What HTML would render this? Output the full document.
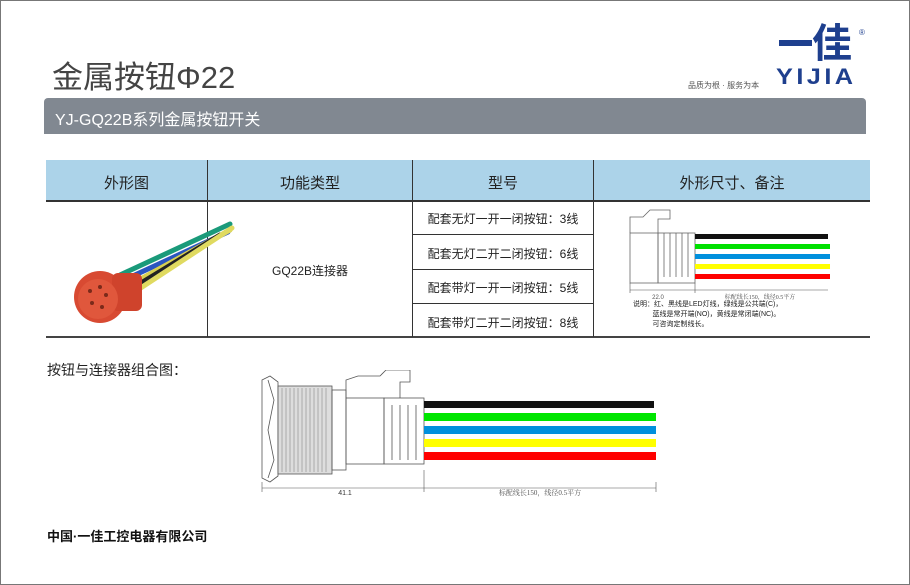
<!DOCTYPE html>
<html><head><meta charset="utf-8"><style>
*{margin:0;padding:0;box-sizing:border-box}
body{width:910px;height:585px;background:#fff;position:relative;overflow:hidden;font-family:"Liberation Sans","Noto Sans CJK SC",sans-serif;color:#333}
.frame{position:absolute;left:0;top:0;width:910px;height:585px;border:1px solid #777}
.a{position:absolute;white-space:nowrap}
</style></head><body>
<div class="frame"></div>
<div class="a" style="left:52px;top:52px;font-size:31px;color:#444">金属按钮Φ22</div>
<!-- logo -->
<div class="a" style="left:779px;top:40px;width:33px;height:6px;background:#1e3f8e"></div>
<div class="a" style="left:812px;top:24px;font-size:40px;font-weight:bold;color:#1e3f8e;line-height:40px">佳</div>
<div class="a" style="left:859px;top:28px;font-size:8px;color:#1e3f8e">®</div>
<div class="a" style="left:776px;top:66px;font-size:22px;font-weight:bold;color:#1e3f8e;letter-spacing:3px;line-height:22px;transform:scaleX(1.15);transform-origin:left">YIJIA</div>
<div class="a" style="left:688px;top:80px;font-size:8px;color:#555">品质为根 · 服务为本</div>
<!-- gray bar -->
<div class="a" style="left:44px;top:98px;width:822px;height:36px;background:#818891;border-radius:4px 4px 0 0"></div>
<div class="a" style="left:55px;top:106px;font-size:16px;color:#fff">YJ-GQ22B系列金属按钮开关</div>
<!-- table -->
<div class="a" style="left:46px;top:160px;width:824px;height:40px;background:#acd3e9"></div>
<div class="a" style="left:46px;top:200px;width:824px;height:2px;background:#333"></div>
<div class="a" style="left:46px;top:336px;width:824px;height:2px;background:#444"></div>
<div class="a" style="left:207px;top:160px;width:1px;height:177px;background:#333"></div>
<div class="a" style="left:412px;top:160px;width:1px;height:177px;background:#333"></div>
<div class="a" style="left:593px;top:160px;width:1px;height:177px;background:#333"></div>
<div class="a" style="left:412px;top:234px;width:181px;height:1px;background:#333"></div>
<div class="a" style="left:412px;top:269px;width:181px;height:1px;background:#333"></div>
<div class="a" style="left:412px;top:303px;width:181px;height:1px;background:#333"></div>
<div class="a" style="left:46px;top:172px;width:161px;text-align:center;font-size:15px;color:#222">外形图</div>
<div class="a" style="left:208px;top:172px;width:204px;text-align:center;font-size:15px;color:#222">功能类型</div>
<div class="a" style="left:413px;top:172px;width:180px;text-align:center;font-size:15px;color:#222">型号</div>
<div class="a" style="left:594px;top:172px;width:276px;text-align:center;font-size:15px;color:#222">外形尺寸、备注</div>
<div class="a" style="left:208px;top:262px;width:204px;text-align:center;font-size:12px;color:#222">GQ22B连接器</div>
<div class="a" style="left:413px;top:210px;width:180px;text-align:center;font-size:12px;color:#222">配套无灯一开一闭按钮：3线</div>
<div class="a" style="left:413px;top:245px;width:180px;text-align:center;font-size:12px;color:#222">配套无灯二开二闭按钮：6线</div>
<div class="a" style="left:413px;top:279px;width:180px;text-align:center;font-size:12px;color:#222">配套带灯一开一闭按钮：5线</div>
<div class="a" style="left:413px;top:314px;width:180px;text-align:center;font-size:12px;color:#222">配套带灯二开二闭按钮：8线</div>
<!-- connector photo -->
<svg class="a" style="left:60px;top:215px" width="175" height="115">
<g stroke-width="5" fill="none" stroke-linecap="round">
<path d="M60 60 L170 9" stroke="#1a9a7a"/>
<path d="M62 66 L168 17" stroke="#2a55c0"/>
<path d="M66 72 L170 15" stroke="#d8d050"/>
<path d="M68 76 L160 20" stroke="#222"/>
<path d="M70 80 L172 13" stroke="#e0da60"/>
</g>
<circle cx="40" cy="82" r="26" fill="#d84a32"/>
<rect x="52" y="58" width="30" height="38" rx="6" fill="#cf432c"/>
<circle cx="38" cy="84" r="20" fill="#e0573c"/>
<g fill="#7a2a1a"><circle cx="30" cy="76" r="2"/><circle cx="40" cy="72" r="2"/><circle cx="46" cy="80" r="2"/><circle cx="32" cy="88" r="2"/><circle cx="42" cy="92" r="2"/></g>
</svg>
<!-- small drawing -->
<svg class="a" style="left:620px;top:205px" width="215" height="95">
<g fill="none" stroke="#666" stroke-width="0.8">
<rect x="10" y="28" width="28" height="50"/>
<path d="M10 28 V12 H23 L30 5 H50 V14 H38 V28"/>
<rect x="38" y="28" width="37" height="50"/>
<path d="M44 28V72M50 28V72M56 28V72M62 28V72M68 28V72"/>
</g>
<rect x="75" y="29" width="133" height="5" fill="#111"/>
<rect x="75" y="39" width="135" height="5" fill="#00e000"/>
<rect x="75" y="49" width="135" height="5" fill="#0090dd"/>
<rect x="75" y="59" width="135" height="5" fill="#ffff00"/>
<rect x="75" y="69" width="135" height="5" fill="#ff0000"/>
<path d="M10 85H208M75 78V88M10 78V88" stroke="#555" stroke-width="0.6"/>
<text x="38" y="94" font-size="6" fill="#555" text-anchor="middle">22.0</text>
<text x="140" y="94" font-size="6" fill="#555" text-anchor="middle" font-family="Liberation Serif,Noto Serif CJK SC,serif">标配线长150，线径0.5平方</text>
</svg>
<div class="a" style="left:633px;top:300px;font-size:7px;line-height:10px;color:#222">说明：红、黑线是LED灯线，绿线是公共端(C)，<br>&nbsp;&nbsp;&nbsp;&nbsp;&nbsp;&nbsp;&nbsp;&nbsp;&nbsp;&nbsp;蓝线是常开端(NO)，黄线是常闭端(NC)。<br>&nbsp;&nbsp;&nbsp;&nbsp;&nbsp;&nbsp;&nbsp;&nbsp;&nbsp;&nbsp;可咨询定制线长。</div>
<div class="a" style="left:47px;top:360px;font-size:14px;color:#222">按钮与连接器组合图：</div>
<!-- big drawing -->
<svg class="a" style="left:250px;top:370px" width="420" height="130">
<g fill="none" stroke="#555" stroke-width="0.8">
<path d="M12 10 L20 6 L28 12 V106 L20 112 L12 108 Z"/>
<path d="M18 10 L24 30 L18 60 L24 90 L18 108"/>
<rect x="28" y="16" width="54" height="88" fill="#ddd"/>
<rect x="82" y="20" width="14" height="80"/>
<rect x="96" y="28" width="38" height="66"/>
<path d="M96 28 V10 L108 6 H130 L136 0 H160 V12 H150 V28"/>
<rect x="134" y="28" width="40" height="66"/>
<path d="M142 35V90M150 35V90M158 35V90M166 35V90"/>
</g>
<g stroke="#888" stroke-width="0.6"><path d="M32 18V102M36 18V102M40 18V102M44 18V102M48 18V102M52 18V102M56 18V102M60 18V102M64 18V102M68 18V102M72 18V102M76 18V102"/></g>
<rect x="174" y="31" width="230" height="7" fill="#111"/>
<rect x="174" y="43" width="232" height="8" fill="#00e600"/>
<rect x="174" y="56" width="232" height="8" fill="#0090dd"/>
<rect x="174" y="69" width="232" height="8" fill="#ffff00"/>
<rect x="174" y="82" width="232" height="8" fill="#ff0000"/>
<path d="M12 118H406M174 100V122M12 112V122M406 112V122" stroke="#555" stroke-width="0.6"/>
<text x="95" y="125" font-size="7" fill="#333" text-anchor="middle">41.1</text>
<text x="290" y="125" font-size="7" fill="#555" text-anchor="middle" font-family="Liberation Serif,Noto Serif CJK SC,serif">标配线长150，线径0.5平方</text>
</svg>
<div class="a" style="left:47px;top:526px;font-size:13px;font-weight:bold;color:#111">中国·一佳工控电器有限公司</div>
</body></html>
